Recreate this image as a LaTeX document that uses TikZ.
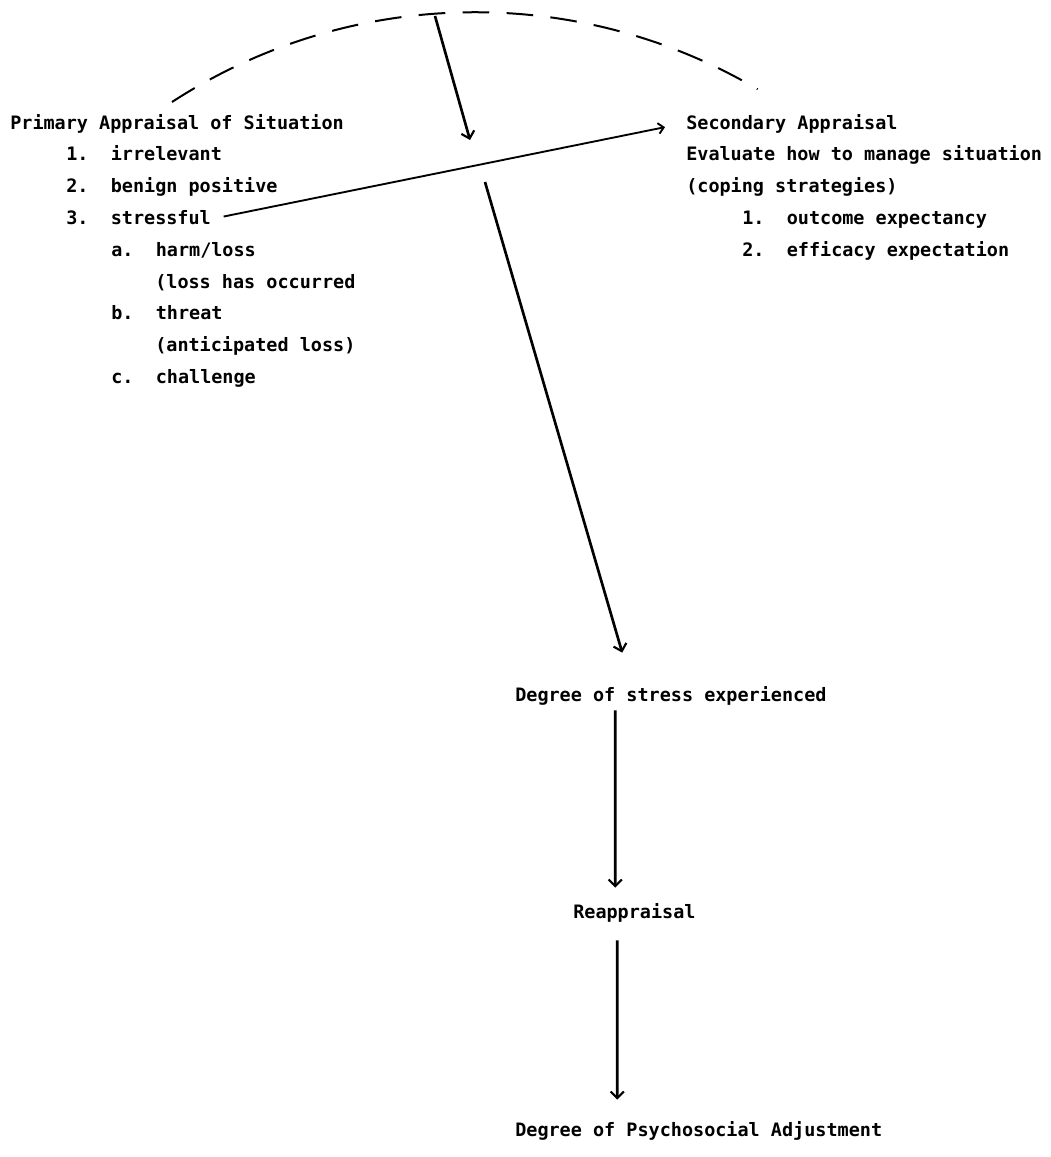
\documentclass[tikz,border=0pt]{standalone}
\usepackage{fontspec}
\setmonofont{DejaVu Sans Mono}
\usetikzlibrary{arrows.meta, calc}
\usepackage{amsmath}

\tikzset{
  txt/.style={anchor=base west, inner sep=0pt, text height=10.6pt, text depth=3.3pt,
    font=\ttfamily\bfseries\fontsize{13.85}{16}\selectfont},
  arr/.style={-{Straight Barb[length=5pt,width=10pt,line width=1.6pt]}, line width=2pt},
  thinarr/.style={-{Straight Barb[length=4pt,width=8pt]}, line width=1.4pt},
  dasharc/.style={line width=1.5pt, dash pattern=on 20pt off 13pt}
}
\newcommand{\itm}[2]{\makebox[33.4pt][l]{#1}#2}

\begin{document}
\begin{tikzpicture}[x=0.75pt,y=0.75pt,yscale=-1,xscale=1]
\useasboundingbox (0,0) rectangle (1050,1157);

% Text Node
\draw (10,129) node [txt] (prim) {Primary Appraisal of Situation};
% Text Node
\draw (66,160.8) node [txt] (irr) {\itm{1.}{irrelevant}};
% Text Node
\draw (66,192.6) node [txt] (ben) {\itm{2.}{benign positive}};
% Text Node
\draw (66,224.4) node [txt] (strs) {\itm{3.}{stressful}};
% Text Node
\draw (111,256.2) node [txt] (harm) {\itm{a.}{harm/loss}};
% Text Node
\draw (155,288) node [txt] (occ) {(loss has occurred};
% Text Node
\draw (111,319.8) node [txt] (thr) {\itm{b.}{threat}};
% Text Node
\draw (155,351.6) node [txt] (ant) {(anticipated loss)};
% Text Node
\draw (111,383.4) node [txt] (chal) {\itm{c.}{challenge}};

% Text Node
\draw (686,129) node [txt] (sec) {Secondary Appraisal};
% Text Node
\draw (686,160.8) node [txt] (eval) {Evaluate how to manage situation};
% Text Node
\draw (686,192.6) node [txt] (cope) {(coping strategies)};
% Text Node
\draw (742,224.4) node [txt] (outc) {\itm{1.}{outcome expectancy}};
% Text Node
\draw (742,256.2) node [txt] (effi) {\itm{2.}{efficacy expectation}};

% Text Node
\draw (515,701) node [txt] (stress) {Degree of stress experienced};
% Text Node
\draw (573,918) node [txt] (reap) {Reappraisal};
% Text Node
\draw (515,1136) node [txt] (adj) {Degree of Psychosocial Adjustment};

%Shape: Arc
\draw [dasharc] (172,102) arc [start angle=-123, end angle=-59.5, radius=556.6];
\coordinate (top) at (435,16);
\coordinate (meet) at (470,140);
\coordinate (split) at (485,182);

%Straight Lines
\draw [arr] (top) -- (meet);
%Straight Lines
\draw [thinarr] ($(strs.east)+(12.5,-3)$) -- ($(sec.west)+(-21,3)$);
%Straight Lines
\draw [arr] (split) -- ($(stress.north)+(-48.7,-34)$);
%Straight Lines
\draw [arr] ($(stress.south)+(-55.7,4.6)$) -- ($(reap.north)+(-19.2,-15.9)$);
%Straight Lines
\draw [arr] ($(reap.south)+(-17.2,17.6)$) -- ($(adj.north)+(-81.5,-21.9)$);

\end{tikzpicture}
\end{document}
